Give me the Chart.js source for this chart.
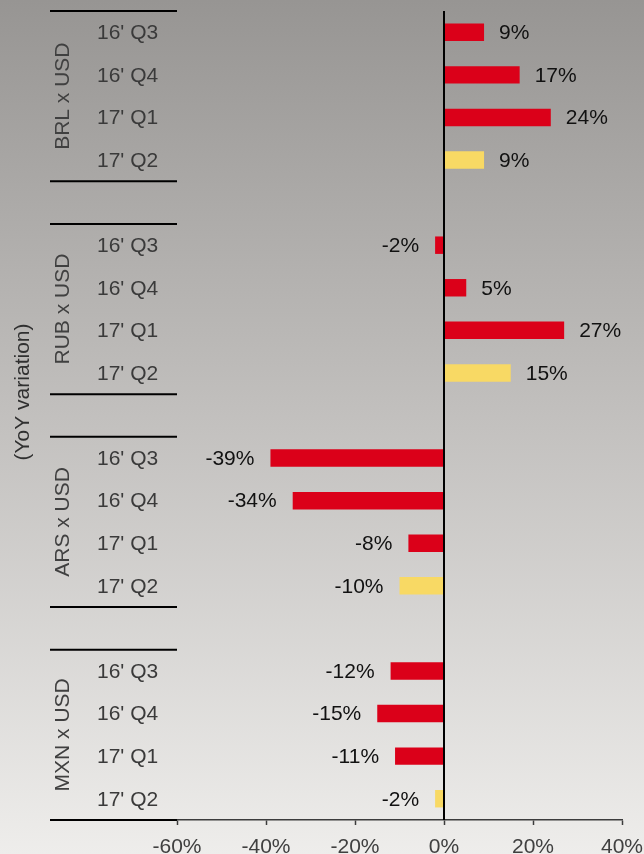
<!DOCTYPE html>
<html>
<head>
<meta charset="utf-8">
<script src="https://cdn.jsdelivr.net/npm/chart.js@4/dist/chart.umd.min.js"></script>
<style>
  html, body { margin: 0; padding: 0; }
  body {
    width: 644px; height: 854px; overflow: hidden;
    background: linear-gradient(to bottom, #979593 0%, #c3c1bf 50%, #eeedeb 100%);
  }
  #wrap { width: 644px; height: 854px; }
</style>
</head>
<body>
<div id="wrap"><canvas id="fx" width="644" height="854"></canvas></div>
<script>
// Currency pairs and the quarters shown for each
const groups = ['BRL x USD', 'RUB x USD', 'ARS x USD', 'MXN x USD'];
const quarters = ["16' Q3", "16' Q4", "17' Q1", "17' Q2"];

// Year-on-year variation of each pair, in percent
const brlUsd = [9, 17, 24, 9];
const rubUsd = [-2, 5, 27, 15];
const arsUsd = [-39, -34, -8, -10];
const mxnUsd = [-12, -15, -11, -2];

// Value axis ticks (percent)
const xTicks = [-60, -40, -20, 0, 20, 40];

const FONT = "'Liberation Sans', Arial, Helvetica, sans-serif";
const RED = '#db0019';
const YELLOW = '#f8d964';

// One category slot per quarter, with an empty slot between pairs
const series = [brlUsd, rubUsd, arsUsd, mxnUsd];
const labels = [];
const values = [];
const colors = [];
const groupSlots = [];
series.forEach((vals, g) => {
  if (g > 0) { labels.push(''); values.push(null); colors.push('rgba(0,0,0,0)'); }
  const first = labels.length;
  vals.forEach((v, q) => {
    labels.push(quarters[q]);
    values.push(v);
    colors.push(q === quarters.length - 1 ? YELLOW : RED);
  });
  groupSlots.push([first, labels.length - 1]);
});

// Left-hand labelling: quarter names, rotated pair names, separators, axis title
const sideLabels = {
  id: 'sideLabels',
  afterDraw(chart) {
    const ctx = chart.ctx;
    const y = chart.scales.y;
    const area = chart.chartArea;
    const slot = (y.getPixelForValue(1) - y.getPixelForValue(0));
    ctx.save();
    // quarter names
    ctx.font = '21px ' + FONT;
    ctx.fillStyle = '#3a3a3a';
    ctx.textAlign = 'left';
    ctx.textBaseline = 'middle';
    chart.data.labels.forEach((lab, i) => {
      if (lab) ctx.fillText(lab, 97, y.getPixelForValue(i) + 1);
    });
    // separators above and below each pair
    ctx.strokeStyle = '#000';
    ctx.lineWidth = 2;
    groupSlots.forEach(([a, b]) => {
      [y.getPixelForValue(a) - slot / 2, y.getPixelForValue(b) + slot / 2].forEach(py => {
        ctx.beginPath();
        ctx.moveTo(50, py);
        ctx.lineTo(area.left, py);
        ctx.stroke();
      });
    });
    // pair names, rotated
    ctx.fillStyle = '#404040';
    ctx.textAlign = 'center';
    groupSlots.forEach(([a, b], g) => {
      const cy = (y.getPixelForValue(a) + y.getPixelForValue(b)) / 2;
      ctx.save();
      ctx.translate(63, cy);
      ctx.rotate(-Math.PI / 2);
      ctx.fillText(groups[g], 0, 0);
      ctx.restore();
    });
    // axis title
    ctx.fillStyle = '#303030';
    ctx.save();
    ctx.translate(23, 392);
    ctx.rotate(-Math.PI / 2);
    ctx.fillText('(YoY variation)', 0, 0);
    ctx.restore();
    ctx.restore();
  }
};

// Zero line and value labels at the end of each bar
const barLabels = {
  id: 'barLabels',
  afterDatasetsDraw(chart) {
    const ctx = chart.ctx;
    const x = chart.scales.x;
    const area = chart.chartArea;
    ctx.save();
    const x0 = x.getPixelForValue(0);
    ctx.strokeStyle = '#000';
    ctx.lineWidth = 2;
    ctx.beginPath();
    ctx.moveTo(x0, area.top);
    ctx.lineTo(x0, area.bottom);
    ctx.stroke();

    ctx.font = '21px ' + FONT;
    ctx.fillStyle = '#111';
    ctx.textBaseline = 'middle';
    const meta = chart.getDatasetMeta(0);
    meta.data.forEach((bar, i) => {
      const v = chart.data.datasets[0].data[i];
      if (v === null || v === undefined) return;
      const txt = v + '%';
      if (v >= 0) {
        ctx.textAlign = 'left';
        ctx.fillText(txt, bar.x + 15, bar.y + 1);
      } else {
        ctx.textAlign = 'right';
        ctx.fillText(txt, bar.x - 16, bar.y + 1);
      }
    });
    ctx.restore();
  }
};

new Chart(document.getElementById('fx'), {
  type: 'bar',
  data: {
    labels: labels,
    datasets: [{
      data: values,
      backgroundColor: colors,
      borderWidth: 0,
      barPercentage: 0.41,
      categoryPercentage: 1
    }]
  },
  options: {
    indexAxis: 'y',
    responsive: false,
    animation: false,
    layout: { padding: { top: 11, right: 22, left: 0, bottom: 0 } },
    plugins: { legend: { display: false }, tooltip: { enabled: false } },
    scales: {
      x: {
        min: xTicks[0],
        max: xTicks[xTicks.length - 1],
        afterBuildTicks(scale) { scale.ticks = xTicks.map(v => ({ value: v })); },
        afterFit(scale) {
          scale.height = 34;
          scale.paddingLeft = 0;
          scale.paddingRight = 0;
        },
        grid: { drawOnChartArea: false, drawTicks: true, tickLength: 5, tickColor: '#3c3c3c', tickWidth: 1.5 },
        border: { display: true, color: '#3c3c3c', width: 1.5 },
        ticks: {
          color: '#404040',
          font: { family: FONT, size: 21 },
          padding: 10,
          maxRotation: 0,
          autoSkip: false,
          callback: v => v + '%'
        }
      },
      y: {
        afterFit(scale) { scale.width = 177; },
        grid: { display: false },
        border: { display: false },
        ticks: { display: false }
      }
    }
  },
  plugins: [sideLabels, barLabels]
});
</script>
</body>
</html>
